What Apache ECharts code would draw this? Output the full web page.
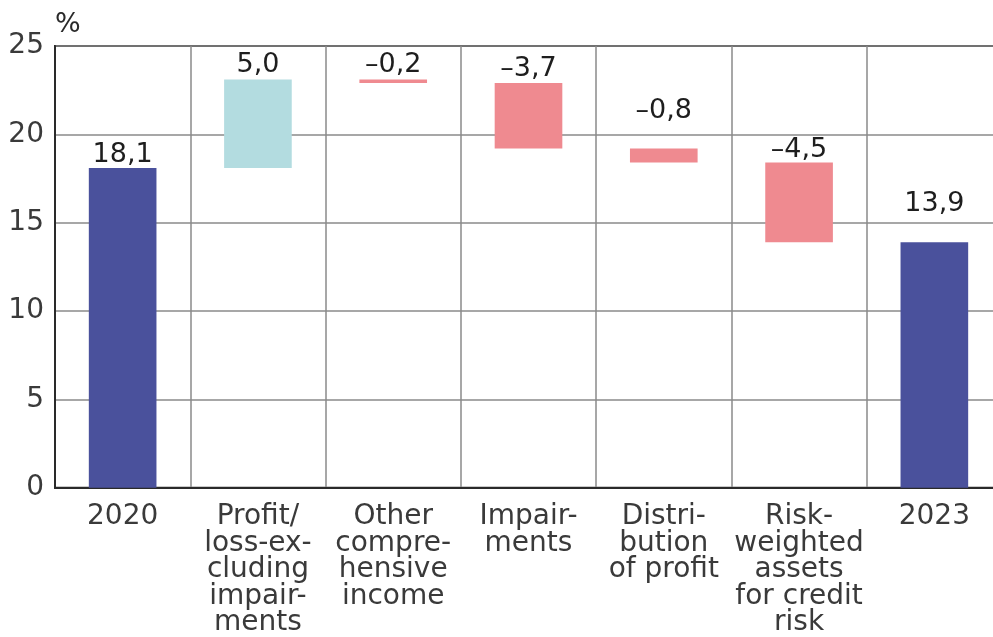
<!DOCTYPE html>
<html>
<head>
<meta charset="utf-8">
<script src="https://cdn.jsdelivr.net/npm/echarts@6/dist/echarts.min.js"></script>
<style>
html,body{margin:0;padding:0;background:#fff;overflow:hidden;}
#chart{width:1002px;height:637px;}
</style>
</head>
<body>
<div id="chart"></div>
<script>
// ---- data ----
var categories = [
  "2020",
  "Profit/\nloss-ex-\ncluding\nimpair-\nments",
  "Other\ncompre-\nhensive\nincome",
  "Impair-\nments",
  "Distri-\nbution\nof profit",
  "Risk-\nweighted\nassets\nfor credit\nrisk",
  "2023"
];
var values = [18.1, 5.0, -0.2, -3.7, -0.8, -4.5, 13.9];
var kinds = ["total", "change", "change", "change", "change", "change", "total"];
var yTicks = [0, 5, 10, 15, 20, 25];

// ---- styles ----
var colTotal = "#4a519c";
var colUp = "#b3dce0";
var colDown = "#ef8a90";
var labelGap = [-1, 1, 1, 1, 24, -1, 25];

// ---- waterfall computation ----
var base = [], len = [], cum = 0;
for (var i = 0; i < values.length; i++) {
  if (kinds[i] === "total") {
    base.push(0); len.push(values[i]); cum = values[i];
  } else {
    var next = cum + values[i];
    base.push(Math.min(cum, next));
    len.push(Math.abs(values[i]));
    cum = next;
  }
}
function fmt(v) {
  var s = Math.abs(v).toFixed(1).replace(".", ",");
  return (v < 0 ? "\u2013" : "") + s;
}
var visData = len.map(function (l, i) {
  var c = kinds[i] === "total" ? colTotal : (values[i] >= 0 ? colUp : colDown);
  return {
    value: +l.toFixed(2),
    itemStyle: { color: c },
    label: { distance: labelGap[i] }
  };
});

var font = "'DejaVu Sans', sans-serif";
var chart = echarts.init(document.getElementById("chart"), null, { renderer: "canvas" });
chart.setOption({
  animation: false,
  backgroundColor: "#fff",
  grid: {
    left: 55, right: 0, top: 46, bottom: 149,
    show: true, borderColor: "#2a2a2a", borderWidth: 2, containLabel: false
  },
  xAxis: {
    type: "category",
    data: categories,
    boundaryGap: true,
    axisLine: { show: true, lineStyle: { color: "#2a2a2a", width: 2 } },
    axisTick: { show: false },
    splitLine: { show: true, interval: 0, lineStyle: { color: "#8a8a8a", width: 1.5 } },
    axisLabel: {
      interval: 0, margin: 16, color: "#3a3a3a",
      fontFamily: font, fontSize: 28, lineHeight: 26.5
    }
  },
  yAxis: {
    type: "value",
    min: yTicks[0], max: yTicks[yTicks.length - 1], interval: 5,
    name: "%",
    nameLocation: "end",
    nameGap: 21,
    nameTextStyle: { align: "left", verticalAlign: "middle", color: "#2a2a2a", fontFamily: font, fontSize: 27 },
    axisLine: { show: true, lineStyle: { color: "#2a2a2a", width: 2 } },
    axisTick: { show: false },
    splitLine: { show: true, lineStyle: { color: "#8a8a8a", width: 1.5 } },
    axisLabel: { margin: 11, color: "#3a3a3a", fontFamily: font, fontSize: 28 }
  },
  series: [
    {
      type: "bar", stack: "w", barWidth: "50%",
      data: base,
      itemStyle: { color: "transparent" },
      emphasis: { disabled: true },
      silent: true
    },
    {
      type: "bar", stack: "w", barWidth: "50%",
      data: visData,
      label: {
        show: true, position: "top",
        color: "#1e1e1e", fontFamily: font, fontSize: 27,
        formatter: function (p) { return fmt(values[p.dataIndex]); }
      }
    }
  ]
});
</script>
</body>
</html>
